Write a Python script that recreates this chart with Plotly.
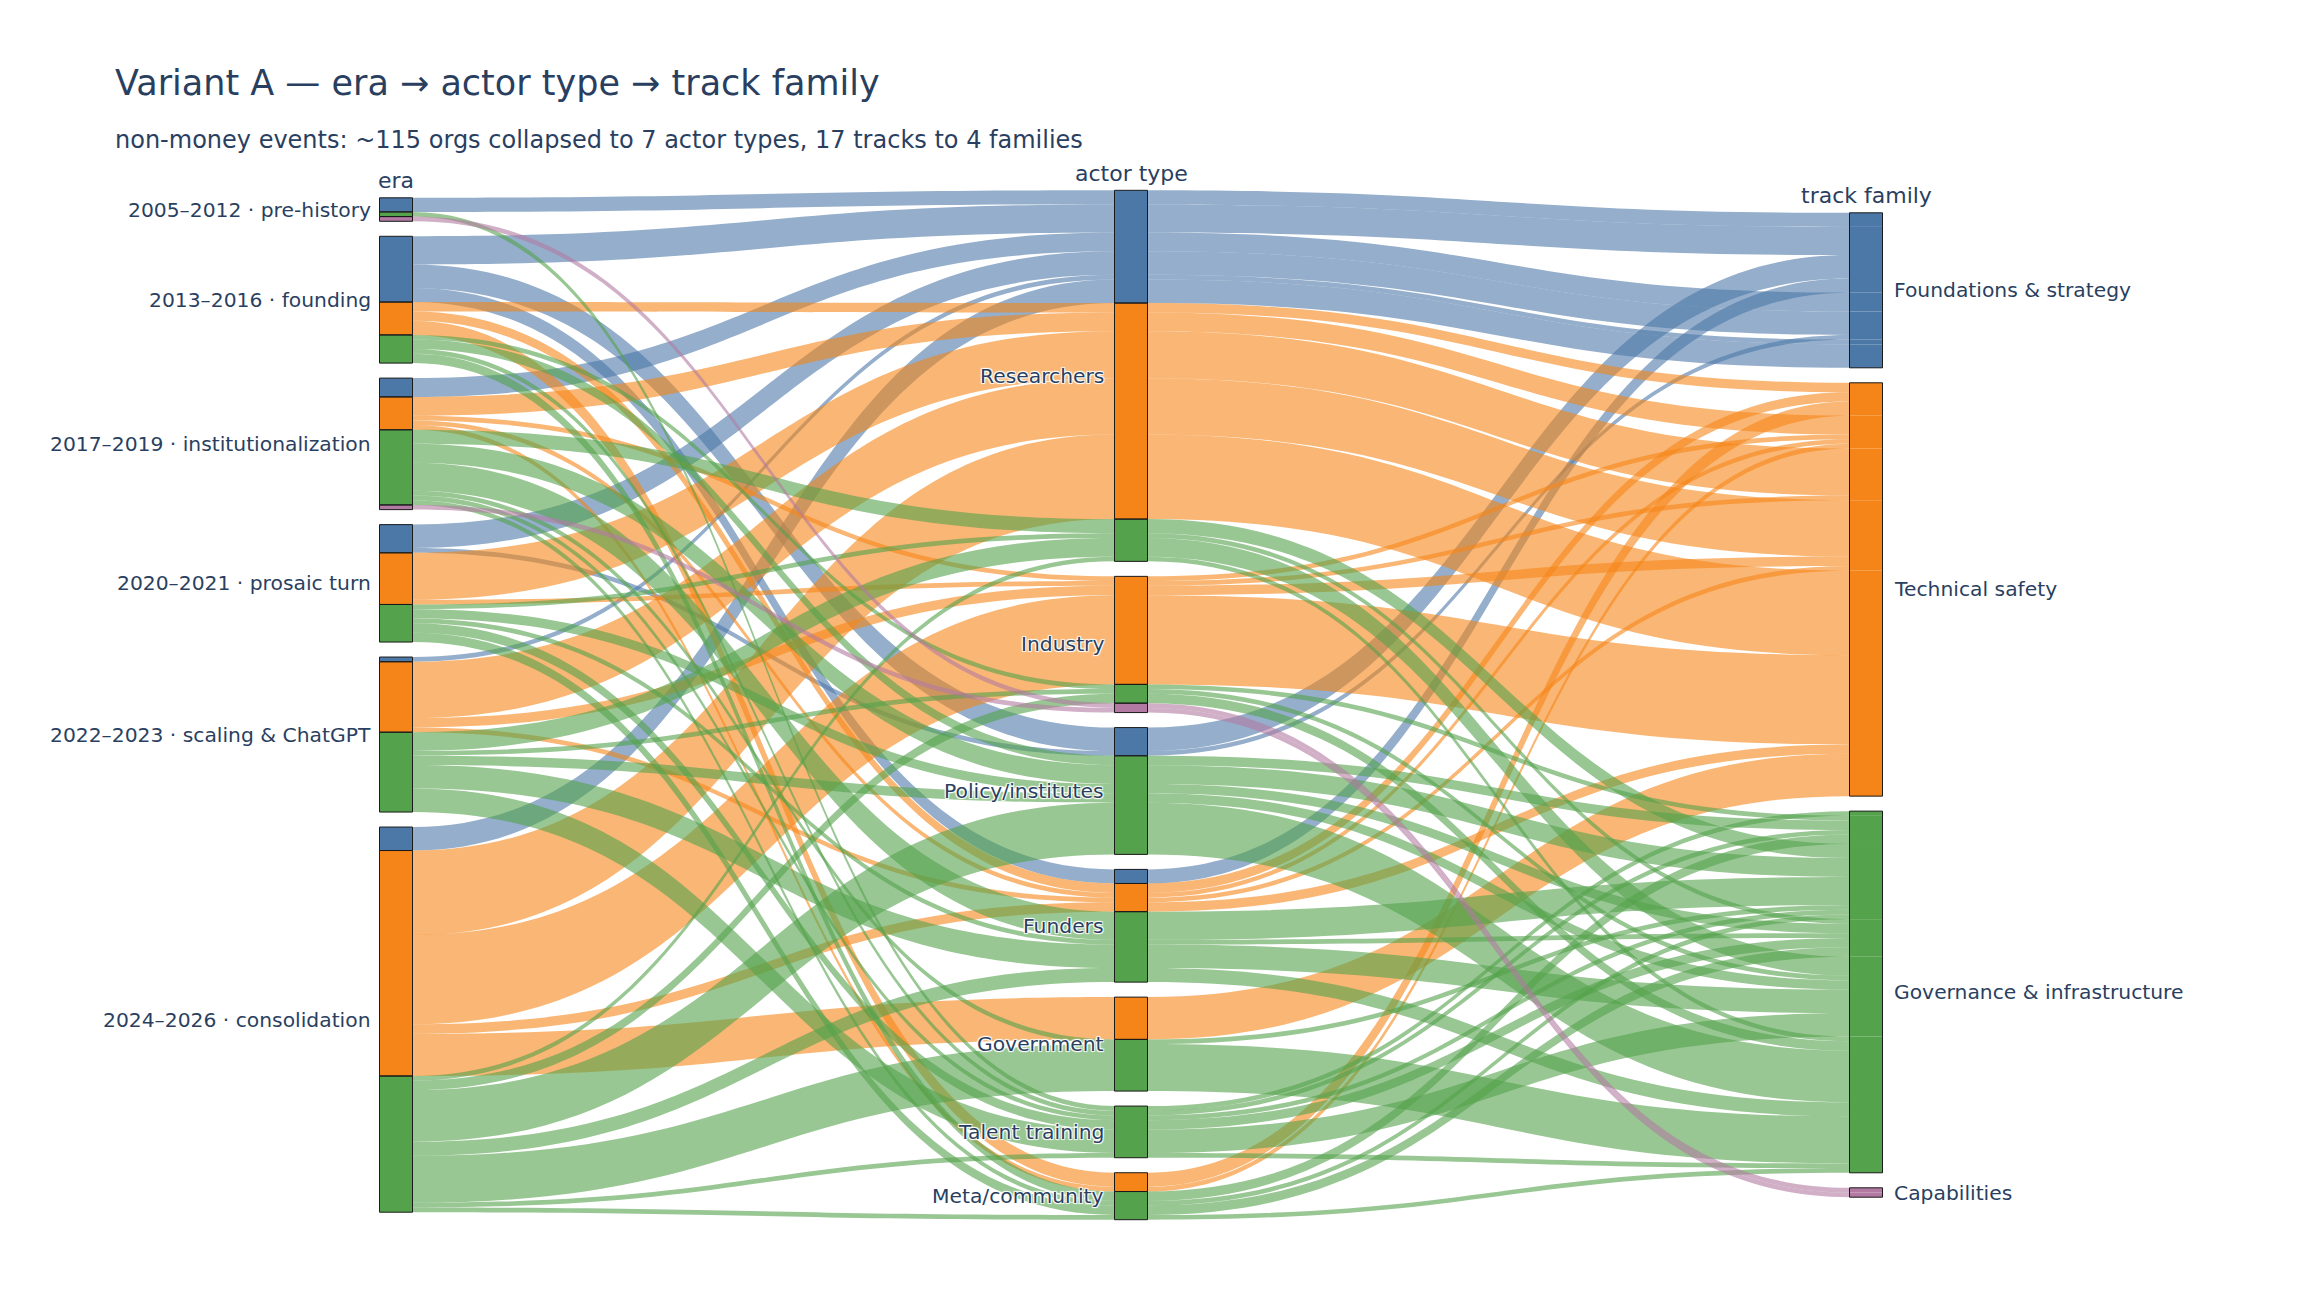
import plotly.graph_objects as go

# categories
ERAS = [
    "2005–2012 · pre-history",
    "2013–2016 · founding",
    "2017–2019 · institutionalization",
    "2020–2021 · prosaic turn",
    "2022–2023 · scaling & ChatGPT",
    "2024–2026 · consolidation",
]
ACTORS = [
    "Researchers", "Industry", "Policy/institutes", "Funders",
    "Government", "Talent training", "Meta/community",
]
FAMILIES = [
    "Foundations & strategy", "Technical safety",
    "Governance & infrastructure", "Capabilities",
]
FAMILY_COLORS = ["#4c78a8", "#f58518", "#54a24b", "#b279a2"]

# event counts per (era index, actor index, count), one list per track family
FOUNDATIONS = [(0, 0, 3), (1, 0, 6), (1, 2, 5), (1, 3, 3), (2, 0, 4),
               (3, 0, 5), (3, 2, 1), (4, 0, 1), (5, 0, 5)]
TECHNICAL = [(1, 0, 2), (1, 3, 2), (1, 6, 3),
             (2, 0, 4), (2, 1, 1), (2, 3, 1), (2, 6, 1),
             (3, 0, 10), (3, 1, 1),
             (4, 0, 12), (4, 1, 2), (4, 3, 1),
             (5, 0, 18), (5, 1, 19), (5, 3, 2), (5, 4, 9)]
GOVERNANCE = [(0, 5, 1),
              (1, 1, 1), (1, 2, 2), (1, 5, 1), (1, 6, 2),
              (2, 0, 3), (2, 2, 4), (2, 3, 6), (2, 4, 1), (2, 5, 1), (2, 6, 1),
              (3, 0, 1), (3, 2, 2), (3, 3, 1), (3, 5, 2), (3, 6, 2),
              (4, 0, 4), (4, 1, 1), (4, 2, 2), (4, 3, 5), (4, 5, 5),
              (5, 0, 1), (5, 1, 2), (5, 2, 11), (5, 3, 3), (5, 4, 10), (5, 5, 1), (5, 6, 1)]
CAPABILITIES = [(0, 1, 1), (2, 1, 1)]

FLOWS = [FOUNDATIONS, TECHNICAL, GOVERNANCE, CAPABILITIES]

TITLE = "Variant A — era → actor type → track family"
SUBTITLE = "non-money events: ~115 orgs collapsed to 7 actor types, 17 tracks to 4 families"
HEADERS = ["era", "actor type", "track family"]

# page geometry
W, H = 2300, 1300
ML, MR, MT, MB = 73, 127, 122, 28
PW, PH = W - ML - MR, H - MT - MB
PAD = 11.7
GAP = 15
THICK = 33
COL_X = [0.15, 0.5, 0.85]
FONT = "DejaVu Sans"
INK = "#2a3f5f"
EDGE = "#1a1a1a"


def rgba(hex_color, a):
    h = hex_color.lstrip("#")
    return "rgba(%d,%d,%d,%s)" % (int(h[0:2], 16), int(h[2:4], 16), int(h[4:6], 16), a)


# totals per (era, family) and (actor, family)
era_tot = {}
act_tot = {}
for f, fl in enumerate(FLOWS):
    for e, a, v in fl:
        era_tot[(e, f)] = era_tot.get((e, f), 0) + v
        act_tot[(a, f)] = act_tot.get((a, f), 0) + v

era_keys = [(e, f) for e in range(len(ERAS)) for f in range(len(FAMILIES)) if (e, f) in era_tot]
act_keys = [(a, f) for a in range(len(ACTORS)) for f in range(len(FAMILIES)) if (a, f) in act_tot]
# family nodes are stacked era slices so ribbons arrive in era order
fam_keys = [(f, e) for f in range(len(FAMILIES)) for e in range(len(ERAS)) if (e, f) in era_tot]

total = sum(era_tot.values())
max_col = max(len(era_keys), len(act_keys), len(fam_keys))
ky = (PH - (max_col - 1) * PAD) / total  # same scale plotly uses for node heights


def stack(groups):
    """groups: list of lists of values -> node (top, bottom), group tops, group bottoms (plot px)"""
    span = sum(sum(g) for g in groups) * ky + GAP * (len(groups) - 1)
    y = PH / 2 - span / 2
    spans, tops, bottoms = [], [], []
    for g in groups:
        tops.append(y)
        for v in g:
            spans.append((y, y + v * ky))
            y += v * ky
        bottoms.append(y)
        y += GAP
    return spans, tops, bottoms


era_groups = [[era_tot[k] for k in era_keys if k[0] == e] for e in range(len(ERAS))]
act_groups = [[act_tot[k] for k in act_keys if k[0] == a] for a in range(len(ACTORS))]
fam_groups = [[era_tot[(e, f)] for ff, e in fam_keys if ff == f] for f in range(len(FAMILIES))]

era_s, era_t, era_b = stack(era_groups)
act_s, act_t, act_b = stack(act_groups)
fam_s, fam_t, fam_b = stack(fam_groups)

era_idx = {k: i for i, k in enumerate(era_keys)}
act_idx = {k: len(era_keys) + i for i, k in enumerate(act_keys)}
fam_idx = {k: len(era_keys) + len(act_keys) + i for i, k in enumerate(fam_keys)}

node_x = [COL_X[0]] * len(era_keys) + [COL_X[1]] * len(act_keys) + [COL_X[2]] * len(fam_keys)
node_y = [(t + b) / 2 / PH for t, b in era_s + act_s + fam_s]
node_color = ([FAMILY_COLORS[f] for _, f in era_keys] + [FAMILY_COLORS[f] for _, f in act_keys]
              + [FAMILY_COLORS[f] for f, _ in fam_keys])

src, tgt, val, col = [], [], [], []
for f, fl in enumerate(FLOWS):
    for e, a, v in fl:
        src.append(era_idx[(e, f)])
        tgt.append(act_idx[(a, f)])
        val.append(v)
        col.append(rgba(FAMILY_COLORS[f], 0.6))
for f, fl in enumerate(FLOWS):
    for e, a, v in fl:
        src.append(act_idx[(a, f)])
        tgt.append(fam_idx[(f, e)])
        val.append(v)
        col.append(rgba(FAMILY_COLORS[f], 0.6))

fig = go.Figure(go.Sankey(
    arrangement="fixed",
    node=dict(
        label=[""] * len(node_x),
        x=node_x, y=node_y,
        pad=PAD, thickness=THICK,
        color=node_color,
        line=dict(color=EDGE, width=0),
    ),
    link=dict(source=src, target=tgt, value=val, color=col),
    hoverinfo="none",
))


def px(x):
    return (x - ML) / PW


def py(y):
    return 1 - (y - MT) / PH


SHADOW = "1px 1px 1px #fff, 1px -1px 1px #fff, -1px 1px 1px #fff, -1px -1px 1px #fff"
annotations = []


def add_text(text, x, y, size, xanchor="center", shadow=False):
    font = dict(family=FONT, size=size, color=INK)
    if shadow:
        font["shadow"] = SHADOW
    annotations.append(dict(text=text, x=px(x), y=py(y), xref="paper", yref="paper",
                            xanchor=xanchor, yanchor="middle", showarrow=False, font=font))


col_px = [ML + cx * PW for cx in COL_X]

add_text(TITLE, 105, 75, 35, xanchor="left")
add_text(SUBTITLE, 105, 132, 24, xanchor="left")

for name, x, top in zip(HEADERS, col_px, [era_t[0], act_t[0], fam_t[0]]):
    add_text(name, x, MT + top - 17, 22)

for name, t, b in zip(ERAS, era_t, era_b):
    add_text(name, col_px[0] - THICK / 2 - 7, MT + (t + b) / 2, 20.3, xanchor="right", shadow=True)
for name, t, b in zip(ACTORS, act_t, act_b):
    add_text(name, col_px[1] - THICK / 2 - 9, MT + (t + b) / 2, 20.3, xanchor="right", shadow=True)
for name, t, b in zip(FAMILIES, fam_t, fam_b):
    add_text(name, col_px[2] + THICK / 2 + 9, MT + (t + b) / 2, 20.3, xanchor="left", shadow=True)


# node outlines: each era / actor slice, and one box round each family
def outline(cx, t, b):
    return dict(type="rect", xref="paper", yref="paper",
                x0=px(cx - THICK / 2), x1=px(cx + THICK / 2),
                y0=py(MT + b), y1=py(MT + t),
                line=dict(color=EDGE, width=1), fillcolor="rgba(0,0,0,0)", layer="above")


shapes = ([outline(col_px[0], t, b) for t, b in era_s]
          + [outline(col_px[1], t, b) for t, b in act_s]
          + [outline(col_px[2], t, b) for t, b in zip(fam_t, fam_b)])

fig.update_layout(
    width=W, height=H,
    margin=dict(l=ML, r=MR, t=MT, b=MB),
    paper_bgcolor="white",
    font=dict(family=FONT, color=INK),
    annotations=annotations,
    shapes=shapes,
)

fig.write_html("out.html")
